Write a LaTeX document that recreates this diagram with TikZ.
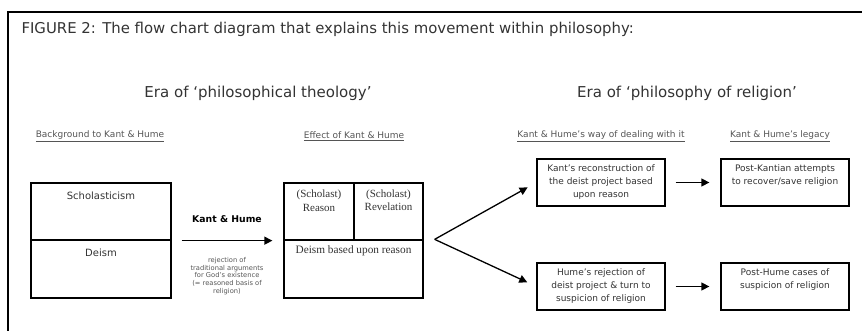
\documentclass[tikz,border=0pt]{standalone}
\usepackage{fontspec}
\setmainfont{DejaVu Sans}
\newfontfamily\boxserif{Liberation Serif}
\usetikzlibrary{arrows.meta}

\definecolor{inkgray}{HTML}{333333}
\definecolor{subgray}{HTML}{555555}

\tikzset{
  frameline/.style={line width=1.5pt, black},
  halfbox/.style={draw, line width=1.3pt, inner sep=0pt},
  rbox/.style={draw, line width=1.3pt, inner sep=0pt, minimum width=128pt, minimum height=47pt},
  boxtext/.style={anchor=north, yshift=-3pt, align=center, text=inkgray},
  subhead/.style={text=subgray, font=\fontsize{9}{10}\selectfont},
  flowarrow/.style={line width=1.3pt, -{Triangle[length=8pt,width=8pt]}},
}

\begin{document}
\begin{tikzpicture}[x=1pt, y=-1pt]
    \useasboundingbox (0,0) rectangle (862,331);

    % outer frame (left and top edges only)
    \draw[frameline] (8,331) -- (8,12) -- (862,12);

    % title and era headings
    \node[anchor=west, text=inkgray, font=\fontsize{14.9}{17}\selectfont] (title) at (18,29)
        {FIGURE 2: The flow chart diagram that explains this movement within philosophy:};
    \node[text=inkgray, font=\fontsize{15}{18}\selectfont] (eratheo) at (258,93) {Era of ‘philosophical theology’};
    \node[text=inkgray, font=\fontsize{15}{18}\selectfont] (erarel) at (687,93) {Era of ‘philosophy of religion’};

    % column headings
    \node[subhead] (headback) at (100,136) {\underline{Background to Kant \& Hume}};
    \node[subhead] (headeffect) at (354,136) {\underline{Effect of Kant \& Hume}};
    \node[subhead] (headway) at (601,136) {\underline{Kant \& Hume’s way of dealing with it}};
    \node[subhead] (headlegacy) at (780,136) {\underline{Kant \& Hume’s legacy}};

    % background box
    \node[halfbox, minimum width=140pt, minimum height=57pt,
          label={[boxtext, yshift=-3pt, font=\fontsize{10}{12}\selectfont]north:Scholasticism}] (schol) at (101,211.5) {};
    \node[halfbox, minimum width=140pt, minimum height=58pt,
          label={[boxtext, yshift=-3pt, font=\fontsize{10}{12}\selectfont]north:Deism}] (deism) at (101,269) {};

    % effect box
    \node[halfbox, minimum width=70pt, minimum height=57pt,
          label={[boxtext, yshift=-1pt, font=\boxserif\fontsize{11}{14}\selectfont]north:(Scholast)\\Reason}] (reason) at (319,211.5) {};
    \node[halfbox, minimum width=69pt, minimum height=57pt,
          label={[boxtext, yshift=-1pt, font=\boxserif\fontsize{11}{12.5}\selectfont]north:(Scholast)\\Revelation}] (revel) at (388.5,211.5) {};
    \node[halfbox, minimum width=139pt, minimum height=58pt,
          label={[boxtext, font=\boxserif\fontsize{11.3}{13}\selectfont]north:Deism based upon reason}] (deismreason) at (353.5,269) {};

    % Kant & Hume arrow
    \draw[flowarrow] ([xshift=10pt]schol.south east) -- ([xshift=-11pt]reason.south west)
        node[midway, above=14pt, text=black, font=\bfseries\fontsize{9.3}{11}\selectfont] (kanthume) {Kant \& Hume}
        node[midway, below=13pt, anchor=north, align=center, text=subgray, font=\fontsize{6.7}{7.6}\selectfont] (rejection)
            {rejection of\\traditional arguments\\for God’s existence\\(= reasoned basis of\\religion)};

    % dealing with it
    \node[rbox, label={[boxtext, font=\fontsize{9}{12.8}\selectfont]north:Kant’s reconstruction of\\the deist project based\\upon reason}] (kantrec) at (601,182.5) {};
    \node[rbox, label={[boxtext, font=\fontsize{9}{12.8}\selectfont]north:Hume’s rejection of\\deist project \& turn to\\suspicion of religion}] (humerej) at (601,286.5) {};

    % legacy
    \node[rbox, label={[boxtext, font=\fontsize{9}{12.8}\selectfont]north:Post-Kantian attempts\\to recover/save religion}] (postkant) at (785,182.5) {};
    \node[rbox, label={[boxtext, font=\fontsize{9}{12.8}\selectfont]north:Post-Hume cases of\\suspicion of religion}] (posthume) at (785,286.5) {};

    % fork out of the effect box
    \coordinate (fork) at ([xshift=11pt]deismreason.north east);
    \draw[flowarrow, shorten >=10pt] (fork) -- (kantrec.west);
    \draw[flowarrow, shorten >=10pt] (fork) -- (humerej.west);

    \draw[flowarrow, shorten <=10pt, shorten >=11pt] (kantrec.east) -- (postkant.west);
    \draw[flowarrow, shorten <=10pt, shorten >=11pt] (humerej.east) -- (posthume.west);

\end{tikzpicture}
\end{document}
